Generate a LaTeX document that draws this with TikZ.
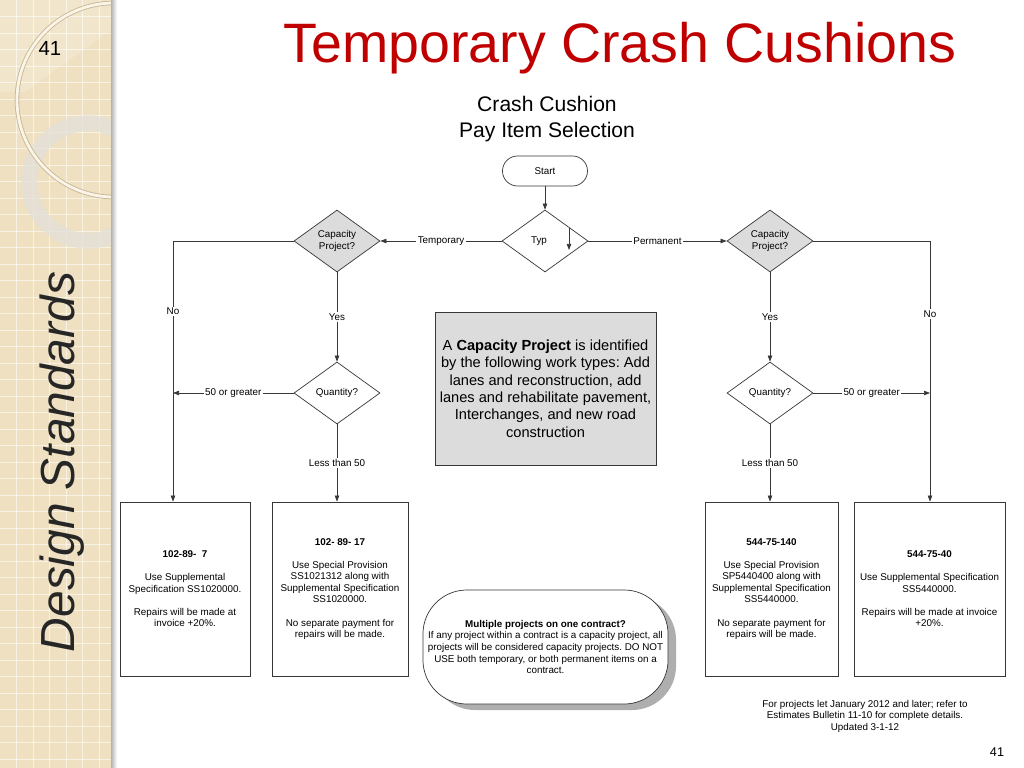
\documentclass[tikz,border=0pt]{standalone}
\usepackage{fontspec}
\setmainfont{Liberation Sans}
\usetikzlibrary{shapes.geometric,arrows.meta,positioning,shadows}
\frenchspacing

\definecolor{sidebeige}{RGB}{238,224,192}
\definecolor{ringcream}{RGB}{250,245,232}
\definecolor{ringedge}{RGB}{200,182,146}
\definecolor{ringgray}{RGB}{226,224,218}
\definecolor{titlered}{RGB}{192,0,0}
\definecolor{fillgray}{RGB}{220,220,220}
\definecolor{linegray}{RGB}{55,55,55}

\newcommand{\flowtext}{\fontsize{7}{8.2}\selectfont}

\tikzstyle{flow}=[draw=linegray,line width=0.5pt]
\tikzstyle{decision}=[flow,diamond,aspect=1.4,inner sep=0pt,minimum width=2.15cm,minimum height=1.55cm,font=\flowtext,align=center]
\tikzstyle{terminal}=[flow,rectangle,rounded corners=0.375cm,minimum width=2.125cm,minimum height=0.75cm,font=\flowtext]
\tikzstyle{payitem}=[flow,rectangle,minimum height=4.35cm,font=\flowtext,align=center,inner sep=2pt]
\tikzstyle{link}=[draw=linegray,line width=0.5pt,-{Triangle[length=0.15cm,width=0.11cm]}]
\tikzstyle{branch}=[fill=white,inner sep=1pt,font=\flowtext]

\begin{document}
\begin{tikzpicture}[x=0.025cm,y=-0.025cm]

   \useasboundingbox (0,0) rectangle (1024,768);
   \fill[white] (0,0) rectangle (1024,768);

   % side bar
   \fill[sidebeige] (0,0) rectangle (111,768);
   \fill[white,opacity=0.2] (0,0) -- (111,0) -- (111,30) -- (25,92) -- (0,92) -- cycle;
   \foreach \gx in {16.5,33,...,99}
      \draw[white,opacity=0.6,line width=0.6pt] (\gx,0) -- (\gx,768);
   \foreach \gy in {16.5,33,...,759}
      \draw[white,opacity=0.6,line width=0.6pt] (0,\gy) -- (111,\gy);
   \begin{scope}
      \clip (0,0) rectangle (111,768);
      \fill[ringgray,opacity=0.75,even odd rule] (88,182) circle (1.665cm) circle (1.275cm);
      \draw[ringedge,line width=3.2pt] (114,100) circle (2.425cm);
      \draw[ringcream,line width=2pt] (114,100) circle (2.425cm);
   \end{scope}
   \shade[left color=black!30,right color=white] (111,0) rectangle (117,768);

   \node[font=\fontsize{14.5}{16}\selectfont] (slidenum) at (50,48) {41};
   \node[rotate=90,text=black!85,font=\fontsize{34}{40}\selectfont\itshape] (sidetitle) at (62,462) {Design Standards};

   % headings
   \node[anchor=base,text=titlered,font=\fontsize{39.5}{46}\selectfont] (title) at (620,63) {Temporary Crash Cushions};
   \node[align=center,font=\fontsize{15}{18.5}\selectfont] (subtitle) at (547,119) {Crash Cushion\\Pay Item Selection};

   % flow
   \node[terminal] (start) at (545,171) {Start};
   \node[decision] (typ) at (545,241) {Typ\hspace*{0.3cm}};
   \node[decision,fill=fillgray] (capL) at (337,241) {Capacity\\Project?};
   \node[decision,fill=fillgray] (capR) at (770,241) {Capacity\\Project?};
   \node[decision] (qtyL) at (337,393) {Quantity?};
   \node[decision] (qtyR) at (770,393) {Quantity?};

   \node[payitem,minimum width=3.25cm] (box1) at (185,589)
      {\textbf{102-89-\ \ 7}\\[8.2pt]Use Supplemental\\Specification SS1020000.\\[8.2pt]Repairs will be made at\\invoice +20\%.};
   \node[payitem,minimum width=3.4cm] (box2) at (340,589)
      {\textbf{102- 89- 17}\\[8.2pt]Use Special Provision\\SS1021312 along with\\Supplemental Specification\\SS1020000.\\[8.2pt]No separate payment for\\repairs will be made.};
   \node[payitem,minimum width=3.325cm] (box3) at (771.5,589)
      {\textbf{544-75-140}\\[8.2pt]Use Special Provision\\SP5440400 along with\\Supplemental Specification\\SS5440000.\\[8.2pt]No separate payment for\\repairs will be made.};
   \node[payitem,minimum width=3.775cm] (box4) at (929.5,589)
      {\textbf{544-75-40}\\[8.2pt]Use Supplemental Specification\\SS5440000.\\[8.2pt]Repairs will be made at invoice\\+20\%.};

   \node[flow,fill=fillgray,minimum width=5.425cm,minimum height=3.825cm,align=center,font=\fontsize{10.4}{12.4}\selectfont] (capnote) at (545.5,388.5)
      {A \textbf{Capacity Project} is identified\\by the following work types: Add\\lanes and reconstruction, add\\lanes and rehabilitate pavement,\\Interchanges, and new road\\construction};

   \node[flow,fill=white,rounded corners=1.1cm,minimum width=6.125cm,minimum height=2.85cm,align=center,font=\flowtext,
         drop shadow={shadow xshift=0.2cm,shadow yshift=-0.15cm,fill=black!45,opacity=0.7}] (multi) at (545.5,647)
      {\textbf{Multiple projects on one contract?}\\If any project within a contract is a capacity project, all\\projects will be considered capacity projects. DO NOT\\USE both temporary, or both permanent items on a\\contract.};

   \node[align=center,font=\flowtext] (footnote) at (865,716)
      {For projects let January 2012 and later; refer to\\Estimates Bulletin 11-10 for complete details.\\Updated 3-1-12};
   \node[font=\fontsize{9}{10}\selectfont] (pagenum) at (997,752) {41};

   \coordinate (noL) at (173,241);
   \coordinate (noR) at (930,241);

   \draw[link] (start) -- (typ);
   \draw[link] ([shift={(24,-13)}]typ.center) -- ([shift={(24,9)}]typ.center);
   \draw[link] (typ) -- node[branch]{Temporary} (capL);
   \draw[link] (typ) -- node[branch]{Permanent} (capR);

   \draw[link] (capL.west) -- (noL) -- node[branch,pos=0.27]{No} (noL |- box1.north);
   \draw[link] (capR.east) -- (noR) -- node[branch,pos=0.28]{No} (noR |- box4.north);

   \draw[link] (capL) -- node[branch]{Yes} (qtyL);
   \draw[link] (capR) -- node[branch]{Yes} (qtyR);
   \draw[link] (qtyL.west) -- node[branch]{50 or greater} (noL |- qtyL);
   \draw[link] (qtyR.east) -- node[branch]{50 or greater} (noR |- qtyR);
   \draw[link] (qtyL) -- node[branch]{Less than 50} (qtyL |- box2.north);
   \draw[link] (qtyR) -- node[branch]{Less than 50} (qtyR |- box3.north);

\end{tikzpicture}
\end{document}
